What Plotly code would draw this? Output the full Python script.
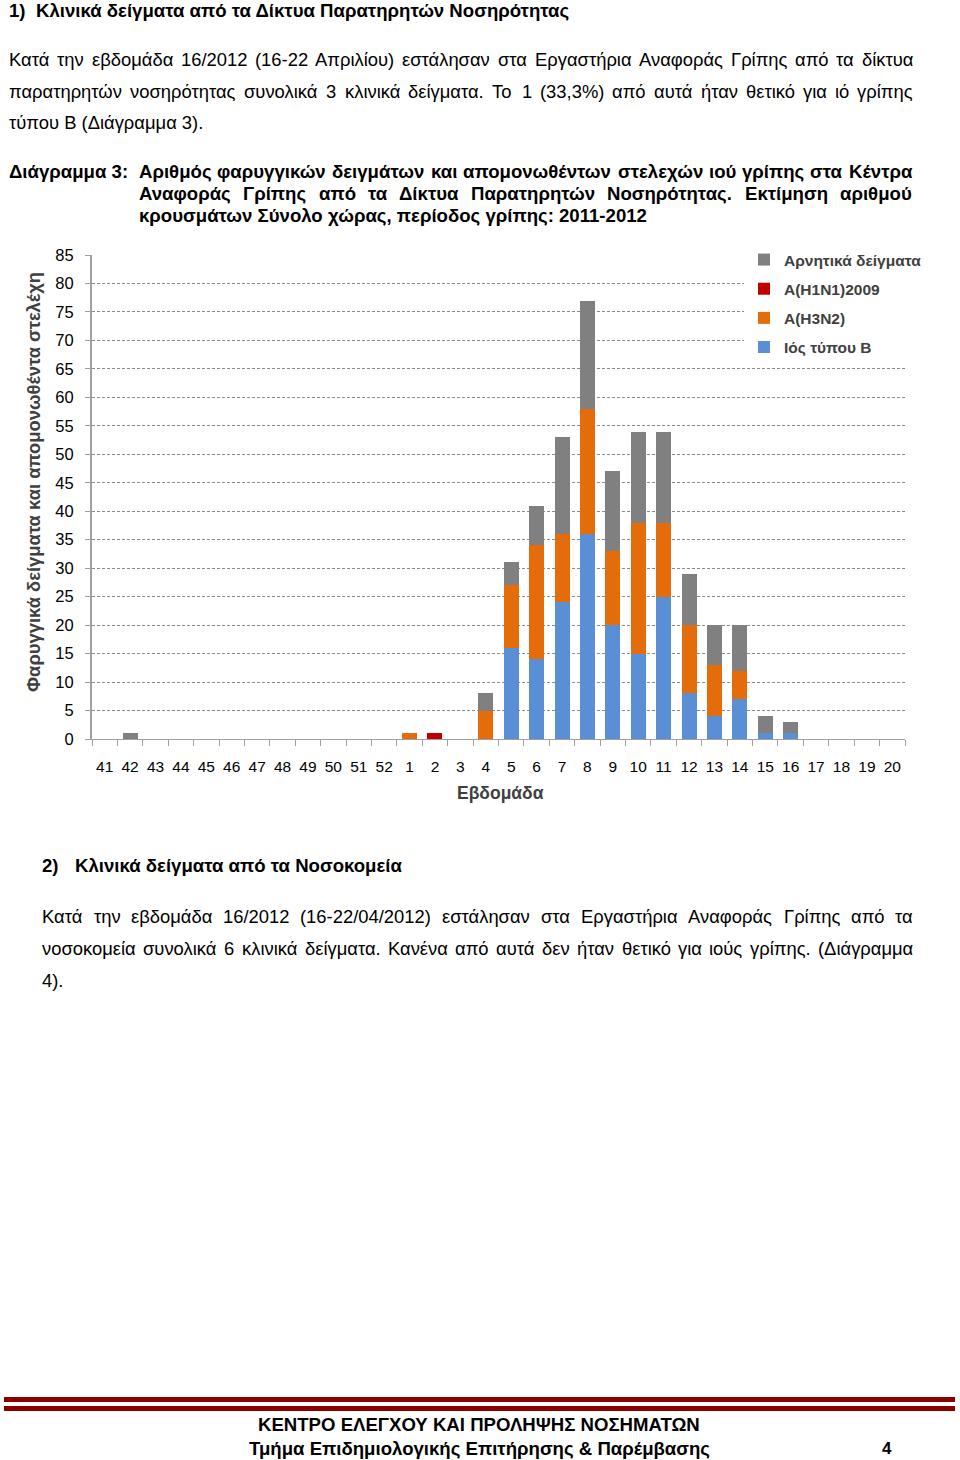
import os
import struct
import plotly.graph_objects as go

W, H = 960, 1460

weeks = [str(w) for w in range(41, 53)] + [str(w) for w in range(1, 21)]
flu_b =    [0]*12 + [0, 0, 0, 0, 16, 14, 24, 36, 20, 15, 25, 8, 4, 7, 1, 1, 0, 0, 0, 0]
h3n2 =     [0]*12 + [1, 0, 0, 5, 11, 20, 12, 22, 13, 23, 13, 12, 9, 5, 0, 0, 0, 0, 0, 0]
h1n1 =     [0]*12 + [0, 1, 0, 0, 0, 0, 0, 0, 0, 0, 0, 0, 0, 0, 0, 0, 0, 0, 0, 0]
negative = [0, 1] + [0]*10 + [0, 0, 0, 3, 4, 7, 17, 19, 14, 16, 16, 9, 7, 8, 3, 2, 0, 0, 0, 0]

series_names = ["Ιός τύπου B", "A(H3N2)", "A(H1N1)2009", "Αρνητικά δείγματα"]
series_vals = [flu_b, h3n2, h1n1, negative]
series_colors = ["#5a8fd6", "#e46c0a", "#c00000", "#808080"]
legend_ranks = [4, 3, 2, 1]

y_ticks = list(range(0, 90, 5))

FONT = "Liberation Sans, Arial, sans-serif"


# ---------- minimal TTF advance-width reader (for justified text) ----------
def find_font(name):
    for root in ["/usr/share/fonts", "/usr/local/share/fonts", os.path.expanduser("~/.fonts")]:
        if not os.path.isdir(root):
            continue
        for r, d, files in os.walk(root):
            if name in files:
                return os.path.join(r, name)
    return None


class Metrics:
    def __init__(self, path):
        data = open(path, "rb").read()
        num = struct.unpack(">H", data[4:6])[0]
        tables = {}
        for i in range(num):
            tag, cs, off, ln = struct.unpack(">4sIII", data[12 + 16 * i:28 + 16 * i])
            tables[tag.decode("latin1")] = off
        off = tables["head"]
        self.upem = struct.unpack(">H", data[off + 18:off + 20])[0]
        off = tables["hhea"]
        nhm = struct.unpack(">H", data[off + 34:off + 36])[0]
        off = tables["hmtx"]
        self.adv = [struct.unpack(">H", data[off + 4 * i:off + 4 * i + 2])[0] for i in range(nhm)]
        off = tables["cmap"]
        n = struct.unpack(">H", data[off + 2:off + 4])[0]
        sub = None
        for i in range(n):
            pid, eid, so = struct.unpack(">HHI", data[off + 4 + 8 * i:off + 12 + 8 * i])
            if pid == 3 and eid == 1:
                sub = off + so
        segx2 = struct.unpack(">H", data[sub + 6:sub + 8])[0]
        seg = segx2 // 2
        ends = struct.unpack(">%dH" % seg, data[sub + 14:sub + 14 + segx2])
        so_ = sub + 16 + segx2
        starts = struct.unpack(">%dH" % seg, data[so_:so_ + segx2])
        do_ = so_ + segx2
        deltas = struct.unpack(">%dh" % seg, data[do_:do_ + segx2])
        ro_ = do_ + segx2
        ros = struct.unpack(">%dH" % seg, data[ro_:ro_ + segx2])
        self.cmap = {}
        for i in range(seg):
            for c in range(starts[i], ends[i] + 1):
                if c == 0xFFFF:
                    continue
                if ros[i] == 0:
                    g = (c + deltas[i]) & 0xFFFF
                else:
                    addr = ro_ + 2 * i + ros[i] + 2 * (c - starts[i])
                    g = struct.unpack(">H", data[addr:addr + 2])[0]
                    if g:
                        g = (g + deltas[i]) & 0xFFFF
                self.cmap[c] = g

    def width(self, s, size):
        tot = 0
        for ch in s:
            g = self.cmap.get(ord(ch), 0)
            tot += self.adv[g] if g < len(self.adv) else self.adv[-1]
        return tot * size / self.upem


def load_metrics(name):
    try:
        p = find_font(name)
        return Metrics(p) if p else None
    except Exception:
        return None


M_REG = load_metrics("LiberationSans-Regular.ttf")
M_BOLD = load_metrics("LiberationSans-Bold.ttf")


def text_width(s, size, bold):
    m = M_BOLD if bold else M_REG
    if m is None:
        return len(s) * size * (0.56 if bold else 0.52)
    return m.width(s, size)


def px(x):
    return x / W


def py(y):
    return 1 - y / H


fig = go.Figure()
for name, vals, col, rank in zip(series_names, series_vals, series_colors, legend_ranks):
    fig.add_trace(go.Bar(
        x=weeks, y=vals, name=name, marker=dict(color=col, line=dict(width=0)),
        legendgroup=name, legendrank=rank,
    ))

annotations = []


def text(t, x, y, size=18.4, bold=False, anchor="left", color="#000000"):
    if bold:
        t = f"<b>{t}</b>"
    annotations.append(dict(
        text=t, x=px(x), y=py(y), xref="paper", yref="paper",
        xanchor=anchor, yanchor="middle", showarrow=False, borderpad=0,
        font=dict(family=FONT, size=size, color=color),
    ))


def justified(t, x0, x1, y, size=18.4, bold=False):
    words = t.split()
    widths = [text_width(w, size, bold) for w in words]
    gap = (x1 - x0 - sum(widths)) / (len(words) - 1)
    xpos = x0
    for w, wl in zip(words, widths):
        text(w, xpos, y, size=size, bold=bold)
        xpos += wl + gap


BODY = 18.4
BOLD = 18.6

text("1)", 8, 10, size=BOLD, bold=True)
text("Κλινικά δείγματα από τα Δίκτυα Παρατηρητών Νοσηρότητας", 35, 10, size=BOLD, bold=True)
justified("Κατά την εβδομάδα 16/2012 (16-22 Απριλίου) εστάλησαν στα Εργαστήρια Αναφοράς Γρίπης από τα δίκτυα", 8, 912, 59, size=BODY)
justified("παρατηρητών νοσηρότητας συνολικά 3 κλινικά δείγματα. Το 1 (33,3%) από αυτά ήταν θετικό για ιό γρίπης", 8, 912, 91, size=BODY)
text("τύπου Β (Διάγραμμα 3).", 8, 123, size=BODY)

text("Διάγραμμα 3:", 8, 172, size=BOLD, bold=True)
justified("Αριθμός φαρυγγικών δειγμάτων και απομονωθέντων στελεχών ιού γρίπης στα Κέντρα", 138, 911, 172, size=BOLD, bold=True)
justified("Αναφοράς Γρίπης από τα Δίκτυα Παρατηρητών Νοσηρότητας. Εκτίμηση αριθμού", 138, 911, 194, size=BOLD, bold=True)
text("κρουσμάτων Σύνολο χώρας, περίοδος γρίπης: 2011-2012", 138, 215, size=BOLD, bold=True)

text("Φαρυγγικά δείγματα και απομονωθέντα στελέχη", 33, 482, size=18.4, bold=True, anchor="center", color="#404040")
annotations[-1]["textangle"] = -90
text("Εβδομάδα", 500, 793, size=17.5, bold=True, anchor="center", color="#404040")

text("2)", 41, 865, size=BOLD, bold=True)
text("Κλινικά δείγματα από τα Νοσοκομεία", 74, 865, size=BOLD, bold=True)
justified("Κατά την εβδομάδα 16/2012 (16-22/04/2012) εστάλησαν στα Εργαστήρια Αναφοράς Γρίπης από τα", 41, 912, 916, size=BODY)
justified("νοσοκομεία συνολικά 6 κλινικά δείγματα. Κανένα από αυτά δεν ήταν θετικό για ιούς γρίπης. (Διάγραμμα", 41, 912, 948, size=BODY)
text("4).", 41, 980, size=BODY)

text("ΚΕΝΤΡΟ ΕΛΕΓΧΟΥ ΚΑΙ ΠΡΟΛΗΨΗΣ ΝΟΣΗΜΑΤΩΝ", 479, 1424, size=BOLD, bold=True, anchor="center")
text("Τμήμα Επιδημιολογικής Επιτήρησης & Παρέμβασης", 479.5, 1448, size=BOLD, bold=True, anchor="center")
text("4", 887, 1448, size=17, bold=True, anchor="center")

shapes = [
    dict(type="line", xref="paper", yref="paper", x0=px(4), x1=px(955), y0=py(1399.5), y1=py(1399.5),
         line=dict(color="#8b0000", width=5)),
    dict(type="line", xref="paper", yref="paper", x0=px(4), x1=px(955), y0=py(1408.5), y1=py(1408.5),
         line=dict(color="#8b0000", width=5)),
]

fig.update_layout(
    width=W, height=H,
    margin=dict(l=0, r=0, t=0, b=0),
    paper_bgcolor="white", plot_bgcolor="white",
    barmode="stack", bargap=0.41,
    font=dict(family=FONT, size=16, color="#000000"),
    annotations=annotations,
    shapes=shapes,
    showlegend=True,
    legend=dict(
        x=px(744), y=py(243), xanchor="left", yanchor="top",
        traceorder="grouped", tracegroupgap=6, itemwidth=30,
        bgcolor="white", borderwidth=0,
        font=dict(family=FONT, size=15.5, color="#404040", weight="bold"),
    ),
    xaxis=dict(
        domain=[px(92), px(905)], type="category",
        tickson="boundaries", ticks="outside", ticklen=6, tickcolor="#a0a0a0",
        showline=True, linecolor="#a0a0a0", linewidth=1,
        showgrid=False, tickfont=dict(size=15.5, color="#000000"), tickangle=0,
        ticklabelstandoff=13, fixedrange=True, automargin=False,
    ),
    yaxis=dict(
        domain=[py(739), py(255)], range=[0, 85],
        tickvals=y_ticks, ticks="outside", ticklen=5, tickcolor="#a0a0a0",
        showline=True, linecolor="#a0a0a0", linewidth=2,
        showgrid=True, gridcolor="#8c8c8c", gridwidth=1, griddash="3px,2px",
        zeroline=False, automargin=False,
        tickfont=dict(size=16.5, color="#000000"), ticklabelstandoff=8,
    ),
)

fig.write_html(
    "out.html",
    config={"displayModeBar": False},
    post_script="document.body.style.margin='0';document.body.style.padding='0';"
                "document.documentElement.style.overflow='hidden';",
)
